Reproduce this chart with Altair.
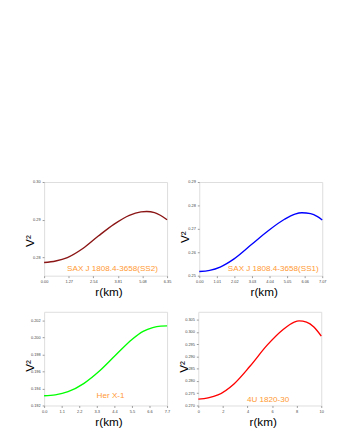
import altair as alt
import pandas as pd

# ---- data ----
r_ss2 = [0.0, 0.6, 1.2, 2.0, 2.8, 3.6, 4.4, 5.0, 5.3, 5.7, 6.0, 6.35]
v_ss2 = [0.2787, 0.2791, 0.2800, 0.2824, 0.2857, 0.2888, 0.2912, 0.2921, 0.2922, 0.2919, 0.2912, 0.2900]

r_ss1 = [0.0, 0.6, 1.2, 2.0, 3.0, 4.0, 4.9, 5.5, 5.9, 6.4, 6.8, 7.07]
v_ss1 = [0.2518, 0.2523, 0.2537, 0.2572, 0.2633, 0.2694, 0.2741, 0.2763, 0.2769, 0.2765, 0.2752, 0.2738]

r_her = [0.0, 0.7, 1.5, 2.5, 3.5, 4.5, 5.5, 6.2, 6.8, 7.3, 7.7]
v_her = [0.19314, 0.19325, 0.19362, 0.19460, 0.19610, 0.19795, 0.19975, 0.20070, 0.20115, 0.20132, 0.20135]

r_4u = [0.0, 0.8, 1.6, 2.9, 4.2, 5.6, 6.9, 7.8, 8.2, 8.8, 9.4, 10.0]
v_4u = [0.2726, 0.2731, 0.2743, 0.2788, 0.2860, 0.2946, 0.3010, 0.3040, 0.3045, 0.3040, 0.3020, 0.2983]

labels = ["SAX J 1808.4-3658(SS2)", "SAX J 1808.4-3658(SS1)", "Her X-1", "4U 1820-30"]
colors = ["#8B1414", "#0000FF", "#00FF00", "#FF0000"]

x_ticks = [
    [0.0, 1.27, 2.54, 3.81, 5.08, 6.35],
    [0.0, 1.01, 2.02, 3.03, 4.04, 5.05, 6.06, 7.07],
    [0.0, 1.1, 2.2, 3.3, 4.4, 5.5, 6.6, 7.7],
    [0, 2, 4, 6, 8, 10],
]
y_ticks = [
    [0.28, 0.29, 0.30],
    [0.25, 0.26, 0.27, 0.28, 0.29],
    [0.192, 0.194, 0.196, 0.198, 0.200, 0.202],
    [0.270, 0.275, 0.280, 0.285, 0.290, 0.295, 0.300, 0.305],
]
x_domains = [[0, 6.35], [0, 7.07], [0, 7.7], [0, 10]]
y_domains = [[0.2752, 0.30], [0.25, 0.29], [0.192, 0.2030], [0.270, 0.3082]]
x_formats = [".2f", ".2f", ".1f", "d"]
y_formats = [".2f", ".2f", ".3f", ".3f"]

# annotation anchor points (data coordinates)
ann_r = [5.88, 6.87, 4.16, 5.68]
ann_v = [0.2769, 0.2530, 0.19306, 0.2722]
ann_align = ["right", "right", "center", "center"]

curves = [(r_ss2, v_ss2), (r_ss1, v_ss1), (r_her, v_her), (r_4u, v_4u)]

W, H = 126, 96
title_y = [60, 56, 55, 56]


def panel(i):
    rs, vs = curves[i]
    df = pd.DataFrame({"r": rs, "v": vs})
    xs = alt.Scale(domain=x_domains[i], nice=False, zero=False)
    ys = alt.Scale(domain=y_domains[i], nice=False, zero=False)
    xax = alt.Axis(values=x_ticks[i], format=x_formats[i], title="r(km)",
                   grid=False, labelFontSize=4, tickSize=2, labelPadding=2,
                   titleFontSize=12, titleFontWeight="normal", titlePadding=3,
                   titleX=W / 2 + 3,
                   labelColor="#444", tickColor="#999", domain=False,
                   labelFlush=False, labelOverlap=False)
    yax = alt.Axis(values=y_ticks[i], format=y_formats[i], title="V²",
                   grid=False, labelFontSize=4, tickSize=2, labelPadding=2,
                   titleFontSize=12, titleFontWeight="normal",
                   titleX=-11, titleY=title_y[i], titleBaseline="alphabetic",
                   titleAlign="center", titleAngle=270,
                   labelColor="#444", tickColor="#999", domain=False,
                   labelOverlap=False, labelFlush=False)
    line = alt.Chart(df).mark_line(color=colors[i], strokeWidth=1.4, interpolate="monotone").encode(
        x=alt.X("r:Q", scale=xs, axis=xax),
        y=alt.Y("v:Q", scale=ys, axis=yax),
    )
    tdf = pd.DataFrame({"r": [ann_r[i]], "v": [ann_v[i]], "t": [labels[i]]})
    txt = alt.Chart(tdf).mark_text(color="#FF9933", fontSize=8.3, align=ann_align[i],
                                   baseline="middle", font="Liberation Sans").encode(
        x=alt.X("r:Q", scale=xs, axis=xax),
        y=alt.Y("v:Q", scale=ys, axis=yax),
        text="t:N",
    )
    return alt.layer(line, txt).properties(width=W, height=H)


top = alt.hconcat(panel(0), panel(1), spacing=6)
bottom = alt.hconcat(panel(2), panel(3), spacing=6)
chart = alt.vconcat(top, bottom, spacing=13).properties(
    padding={"left": 15, "top": 170, "right": 5, "bottom": 5}
).configure_view(stroke="#aaaaaa", strokeWidth=0.8).configure_axis(
    labelOverlap=False
).configure(
    font="Liberation Sans"
)

chart.save("out.html", embed_options={"renderer": "svg", "actions": False})
